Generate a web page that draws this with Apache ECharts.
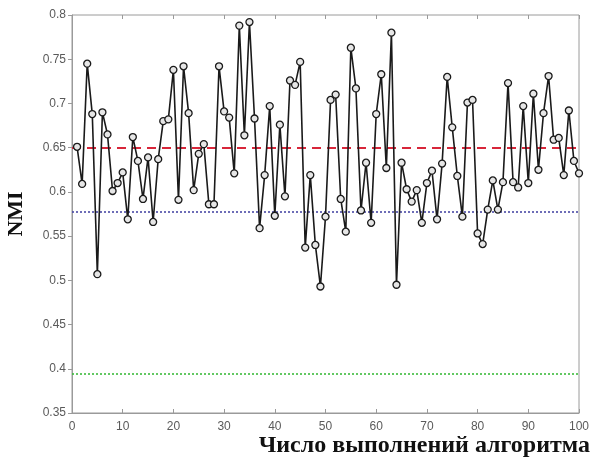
<!DOCTYPE html>
<html>
<head>
    <meta charset="utf-8" />
    <title>NMI</title>
    <style>
        html, body { margin: 0; padding: 0; background: #fff; }
        #main { width: 593px; height: 461px; }
    </style>
    <script src="https://cdn.jsdelivr.net/npm/echarts@6/dist/echarts.min.js"></script>
</head>
<body>
    <div id="main"></div>
    <script type="text/javascript">
        // номера запусков и значения NMI
        var runs = [];
        for (var i = 1; i <= 100; i++) runs.push(i);
        var nmi = [
            0.651, 0.609, 0.745, 0.688, 0.507, 0.690, 0.665, 0.601, 0.610, 0.622,
            0.569, 0.662, 0.635, 0.592, 0.639, 0.566, 0.637, 0.680, 0.682, 0.738,
            0.591, 0.742, 0.689, 0.602, 0.643, 0.654, 0.586, 0.586, 0.742, 0.691,
            0.684, 0.621, 0.788, 0.664, 0.792, 0.683, 0.559, 0.619, 0.697, 0.573,
            0.676, 0.595, 0.726, 0.721, 0.747, 0.537, 0.619, 0.540, 0.493, 0.572,
            0.704, 0.710, 0.592, 0.555, 0.763, 0.717, 0.579, 0.633, 0.565, 0.688,
            0.733, 0.627, 0.780, 0.495, 0.633, 0.603, 0.589, 0.602, 0.565, 0.610,
            0.624, 0.569, 0.632, 0.730, 0.673, 0.618, 0.572, 0.701, 0.704, 0.553,
            0.541, 0.580, 0.613, 0.580, 0.611, 0.723, 0.611, 0.605, 0.697, 0.610,
            0.711, 0.625, 0.689, 0.731, 0.659, 0.661, 0.619, 0.692, 0.635, 0.621
        ];
        // горизонтальные уровни
        var redLevel = 0.65;
        var blueLevel = 0.578;
        var greenLevel = 0.394;
        var xTicks = [0, 10, 20, 30, 40, 50, 60, 70, 80, 90, 100];
        var yTicks = ['0.35', '0.4', '0.45', '0.5', '0.55', '0.6', '0.65', '0.7', '0.75', '0.8'];
        var xTitle = 'Число выполнений алгоритма';
        var yTitle = 'NMI';

        var points = runs.map(function (r, k) { return [r, nmi[k]]; });

        var axisGray = '#9a9a9a';
        var labelGray = '#5a5a5a';

        var chart = echarts.init(document.getElementById('main'));
        var option = {
            animation: false,
            backgroundColor: '#fff',
            grid: { left: 72, right: 14, top: 15, bottom: 48, outerBoundsMode: 'none', containLabel: false,
                show: true, borderColor: axisGray, borderWidth: 1 },
            graphic: [{
                type: 'text', right: 3, top: 434,
                style: { text: xTitle, font: 'bold 24px "Liberation Serif"', fill: '#111' }
            }],
            xAxis: [{
                type: 'value', min: 0, max: 100, interval: 10,
                axisLine: { lineStyle: { color: axisGray } },
                axisTick: { inside: true, length: 4, lineStyle: { color: axisGray } },
                axisLabel: { color: labelGray, fontFamily: 'Liberation Sans', fontSize: 12, margin: 8,
                    formatter: function (v) { return xTicks.indexOf(v) >= 0 ? String(v) : ''; } },
                splitLine: { show: false }
            }, {
                type: 'value', position: 'top', min: 0, max: 100, interval: 10,
                axisLine: { show: false },
                axisTick: { inside: true, length: 4, lineStyle: { color: axisGray } },
                axisLabel: { show: false },
                splitLine: { show: false }
            }],
            yAxis: [{
                type: 'value', min: 0.35, max: 0.8, interval: 0.05,
                axisLine: { show: true, lineStyle: { color: axisGray } },
                axisTick: { show: true, inside: false, length: 4, lineStyle: { color: axisGray } },
                axisLabel: { color: labelGray, fontFamily: 'Liberation Sans', fontSize: 12, margin: 6,
                    formatter: function (v) {
                        var s = String(Math.round(v * 100) / 100);
                        return yTicks.indexOf(s) >= 0 ? s : '';
                    } },
                splitLine: { show: false },
                name: yTitle,
                nameLocation: 'middle',
                nameGap: 45,
                nameRotate: 90,
                nameTextStyle: { fontFamily: 'Liberation Serif', fontWeight: 'bold', fontSize: 22, color: '#111' }
            }, {
                type: 'value', position: 'right', min: 0.35, max: 0.8, interval: 0.05,
                axisLine: { show: false },
                axisTick: { show: true, inside: true, length: 4, lineStyle: { color: axisGray } },
                axisLabel: { show: false },
                splitLine: { show: false }
            }],
            series: [{
                type: 'line',
                data: points,
                symbol: 'circle',
                symbolSize: 7,
                lineStyle: { color: '#1a1a1a', width: 1.6 },
                itemStyle: { color: '#e6e6e6', borderColor: '#1a1a1a', borderWidth: 1.3 },
                z: 5,
                markLine: {
                    silent: true,
                    precision: 3,
                    symbol: ['none', 'none'],
                    label: { show: false },
                    data: [
                        { yAxis: redLevel, lineStyle: { color: '#d8263a', type: [9, 6], width: 1.8 } },
                        { yAxis: blueLevel, lineStyle: { color: '#4a4aa6', type: [2, 2], width: 1.6 } },
                        { yAxis: greenLevel, lineStyle: { color: '#3dbb3d', type: [2, 2], width: 1.6 } }
                    ]
                }
            }]
        };
        chart.setOption(option);
    </script>
</body>
</html>
